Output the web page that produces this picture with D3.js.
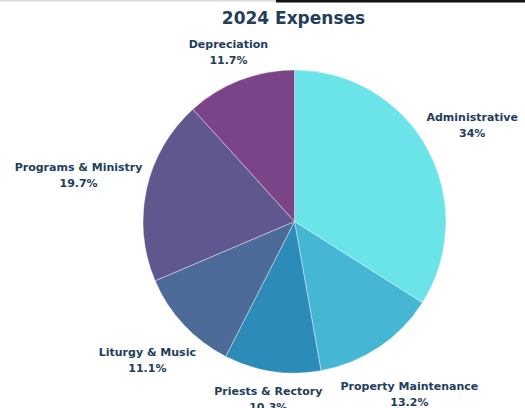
<!DOCTYPE html>
<html>
<head>
<meta charset="utf-8">
<script src="https://cdn.jsdelivr.net/npm/d3@7"></script>
<style>
  html, body { margin: 0; padding: 0; background: #fff; }
  svg { display: block; }
  text { font-family: "DejaVu Sans", sans-serif; font-weight: bold; fill: #233d5c; }
</style>
</head>
<body>
<svg id="chart" width="525" height="408"></svg>
<script>
const title = "2024 Expenses";
const categories = ["Administrative", "Property Maintenance", "Priests & Rectory", "Liturgy & Music", "Programs & Ministry", "Depreciation"];
const values = [34, 13.2, 10.3, 11.1, 19.7, 11.7];
const valueLabels = ["34%", "13.2%", "10.3%", "11.1%", "19.7%", "11.7%"];
const colors = ["#6ae4e8", "#45b7d5", "#2d8bba", "#4d6b99", "#61578f", "#7b4488"];

const W = 525, H = 408;
const cx = 294.5, cy = 221.5, r = 151.5;
const svg = d3.select("#chart");

// top frame strip
svg.append("rect").attr("x", 0).attr("y", 0).attr("width", 276).attr("height", 1.5).attr("fill", "#dcdcdc");
svg.append("rect").attr("x", 276).attr("y", 0).attr("width", W - 276).attr("height", 2.5).attr("fill", "#111");

svg.append("text")
  .attr("x", 293.5).attr("y", 24)
  .attr("text-anchor", "middle")
  .style("font-size", "17px")
  .text(title);

const data = categories.map((c, i) => ({ name: c, value: values[i], label: valueLabels[i], color: colors[i] }));
const pie = d3.pie().value(d => d.value).sort(null);
const arcs = pie(data);
const arc = d3.arc().innerRadius(0).outerRadius(r);

const g = svg.append("g").attr("transform", `translate(${cx},${cy})`);
g.selectAll("path").data(arcs).join("path")
  .attr("d", arc)
  .attr("fill", d => d.data.color)
  .attr("stroke", "#ffffff")
  .attr("stroke-width", 0.4);

const fs = 11;
const lineH = 16;
const boxH = 30;
const off = 4;
const lab = g.selectAll("g.lab").data(arcs).join("g").attr("class", "lab");
lab.each(function(d) {
  const sel = d3.select(this);
  const t1 = sel.append("text").attr("text-anchor", "middle").style("font-size", fs + "px").text(d.data.name);
  const t2 = sel.append("text").attr("text-anchor", "middle").style("font-size", fs + "px").text(d.data.label);
  const w = Math.max(t1.node().getComputedTextLength(), t2.node().getComputedTextLength());
  const a = (d.startAngle + d.endAngle) / 2;
  const s = Math.sin(a), c = Math.cos(a);
  const R = r + off + Math.abs(s) * w / 2 + Math.abs(c) * boxH / 2;
  const x = s * R, y = -c * R;
  t1.attr("x", x).attr("y", y - lineH / 2 + 5.5);
  t2.attr("x", x).attr("y", y + lineH / 2 + 5.5);
});
</script>
</body>
</html>
